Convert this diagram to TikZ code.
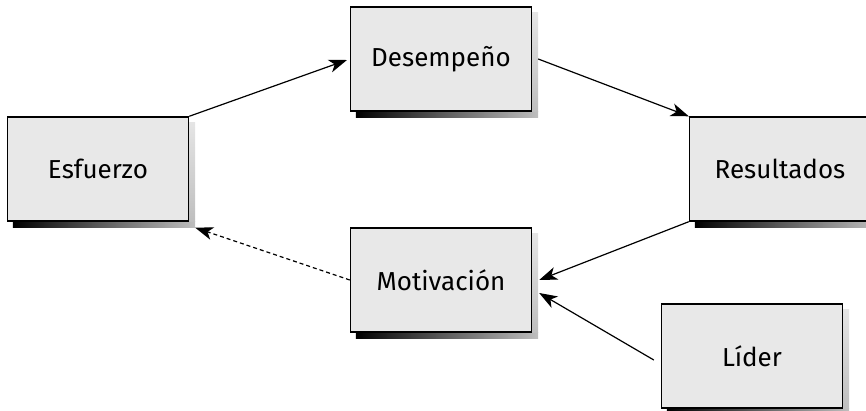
\documentclass[tikz,border=0pt]{standalone}
\usepackage{fontspec}
\setmainfont{Fira Sans}
\usetikzlibrary{arrows.meta,backgrounds}
\definecolor{boxFill}{RGB}{232,232,232}
\definecolor{shLight}{RGB}{190,190,190}
\newcommand{\boxshadow}[1]{%
  \shade[left color=black,right color=shLight] ([xshift=3pt]#1.south west) rectangle ([shift={(3pt,-3pt)}]#1.south east);
  \shade[top color=shLight!40,bottom color=shLight] ([yshift=-3pt]#1.north east) rectangle ([xshift=3pt]#1.south east);}

\begin{document}
\begin{tikzpicture}[x=0.5pt,y=-0.5pt,font=\fontsize{13}{15}\selectfont,>={Stealth[length=9pt,width=6.5pt,inset=2.5pt]},
  blk/.style={draw=black,fill=boxFill,line width=0.7pt,inner sep=0pt,minimum width=90.5pt,minimum height=52pt},
  fl/.style={->,line width=0.6pt,black}]
\useasboundingbox (0,0) rectangle (866,411);
\node[blk] (esf) at (98,169) {Esfuerzo};
\node[blk] (des) at (441,59) {Desempeño};
\node[blk] (res) at (780,169) {Resultados};
\node[blk] (mot) at (441,280) {Motivación};
\node[blk] (lid) at (752,356) {Líder};
\begin{scope}[on background layer]
  \boxshadow{esf}\boxshadow{des}\boxshadow{res}\boxshadow{mot}\boxshadow{lid}
\end{scope}
\draw[fl,shorten >=1.5pt] (esf.north east) -- (des.west);
\draw[fl] ([xshift=3pt]des.east) -- (res.north west);
\draw[fl] (res.south west) -- ([xshift=3.5pt]mot.east);
\draw[fl] ([shift={(-3.5pt,-2pt)}]lid.west) -- ([shift={(3.5pt,-6.5pt)}]mot.east);
\draw[fl,dash pattern=on 2pt off 1.5pt] (mot.west) -- ([shift={(3pt,-3pt)}]esf.south east);
\end{tikzpicture}
\end{document}
